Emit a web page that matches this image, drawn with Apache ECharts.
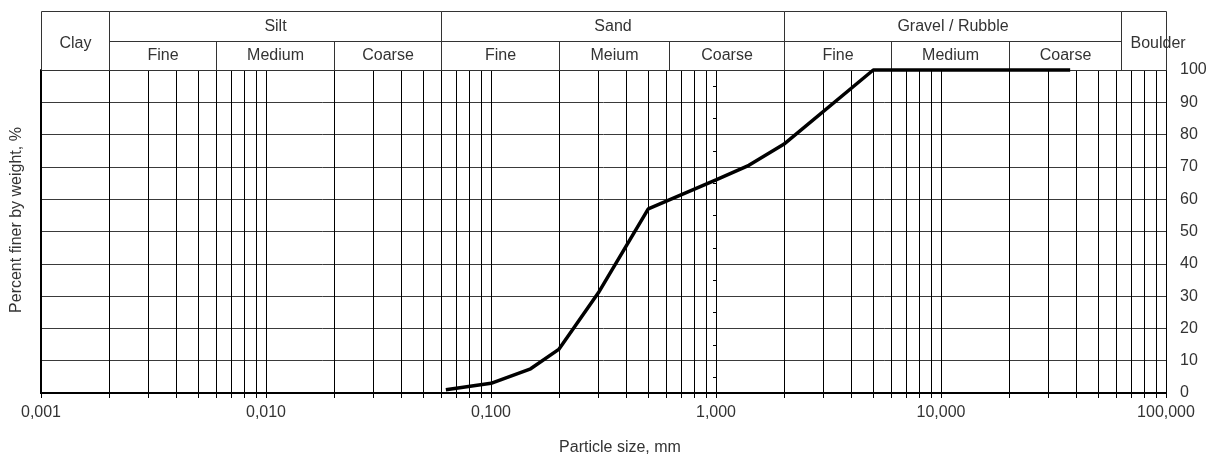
<!DOCTYPE html>
<html>
<head>
<meta charset="utf-8">
<script src="https://cdn.jsdelivr.net/npm/echarts@6/dist/echarts.min.js"></script>
<style>
  html, body { margin: 0; padding: 0; background: #fff; }
  #chart { width: 1215px; height: 458px; }
</style>
</head>
<body>
<div id="chart"></div>
<script>
// Grain-size distribution: cumulative percent passing vs particle size (mm)
const particleSizes = [0.063, 0.1, 0.15, 0.2, 0.3, 0.5, 1.0, 1.4, 2, 5, 10, 20, 37.5];
const percentFiner  = [1, 3, 7.5, 13.5, 31, 57, 66, 70.5, 77, 100, 100, 100, 100];

// Soil classification bands (mm): upper header row and its sub-bands
const mainClasses = ['Clay', 'Silt', 'Sand', 'Gravel / Rubble', 'Boulder'];
const mainBounds  = [[0.001, 0.002], [0.002, 0.06], [0.06, 2], [2, 63], [63, 100]];
const subClasses  = ['Fine', 'Medium', 'Coarse', 'Fine', 'Meium', 'Coarse', 'Fine', 'Medium', 'Coarse'];
const subBounds   = [[0.002, 0.006], [0.006, 0.02], [0.02, 0.06], [0.06, 0.2], [0.2, 0.62], [0.62, 2], [2, 6], [6, 20], [20, 63]];

// Axis ticks
const decadeTicks = [0.001, 0.01, 0.1, 1, 10, 100];
const minorSteps  = [2, 3, 4, 5, 6, 7, 8, 9];
const halfTicks   = [5, 15, 25, 35, 45, 55, 65, 75, 85, 95];

const FONT = 'Liberation Sans, Arial, sans-serif';
const TEXT = '#333';

// Every vertical rule of the log paper: decades plus 2..9 within each decade
const verticalRules = [];
decadeTicks.forEach((d, i) => {
  verticalRules.push(d);
  if (i < decadeTicks.length - 1) minorSteps.forEach(m => verticalRules.push(+(d * m).toPrecision(6)));
});

// Header cells: Clay and Boulder span both rows, the rest split into two rows
const headerCells = [];
mainClasses.forEach((name, i) => {
  const full = name === 'Clay' || name === 'Boulder';
  headerCells.push({ name, x0: mainBounds[i][0], x1: mainBounds[i][1], r0: full ? 0 : 1, r1: 2, edge: name === 'Boulder' });
});
subClasses.forEach((name, i) => {
  headerCells.push({ name, x0: subBounds[i][0], x1: subBounds[i][1], r0: 0, r1: 1, edge: false });
});

const crisp = v => Math.round(v) + 0.5;
const fmtSize = v => Number(v).toFixed(3).replace('.', ',');

const chart = echarts.init(document.getElementById('chart'), null, { renderer: 'canvas' });

chart.setOption({
  animation: false,
  backgroundColor: '#fff',
  grid: [
    { left: 41, right: 49, top: 70, height: 323 },
    { left: 41, right: 49, top: 11, height: 59 }
  ],
  xAxis: [
    {
      type: 'log', logBase: 10, min: 0.001, max: 100, gridIndex: 0, position: 'bottom',
      axisLine: { show: true, lineStyle: { color: '#000', width: 2 } },
      axisTick: { show: false },
      splitLine: { show: false },
      axisLabel: { color: TEXT, fontFamily: FONT, fontSize: 16, margin: 12, formatter: fmtSize }
    },
    {
      type: 'log', logBase: 10, min: 0.001, max: 100, gridIndex: 0, position: 'top',
      axisLine: { show: true, lineStyle: { color: '#000', width: 2 } },
      axisTick: { show: false }, axisLabel: { show: false }, splitLine: { show: false }
    },
    {
      type: 'log', logBase: 10, min: 0.001, max: 100, gridIndex: 1, show: false
    }
  ],
  yAxis: [
    {
      type: 'value', min: 0, max: 100, interval: 10, gridIndex: 0, position: 'right',
      axisLine: { show: true, lineStyle: { color: '#000', width: 1 } },
      axisTick: { show: false },
      splitLine: { show: true, lineStyle: { color: '#3a3a3a', width: 1 } },
      axisLabel: { color: TEXT, fontFamily: FONT, fontSize: 16, margin: 14, align: 'left' }
    },
    {
      type: 'value', min: 0, max: 100, interval: 10, gridIndex: 0, position: 'left',
      axisLine: { show: true, lineStyle: { color: '#000', width: 2 } },
      axisTick: { show: false }, axisLabel: { show: false }, splitLine: { show: false }
    },
    {
      type: 'value', min: 0, max: 2, gridIndex: 1, show: false
    }
  ],
  graphic: [
    {
      type: 'text', x: 620, y: 448,
      style: { text: 'Particle size, mm', fill: TEXT, font: '16px ' + FONT, align: 'center', verticalAlign: 'middle' }
    },
    {
      type: 'text', x: 17, y: 220, rotation: Math.PI / 2,
      style: { text: 'Percent finer by weight, %', fill: TEXT, font: '16px ' + FONT, align: 'center', verticalAlign: 'middle' }
    }
  ],
  series: [
    {
      // vertical log-paper rules, each with a short tick below the axis
      type: 'custom', xAxisIndex: 0, yAxisIndex: 0, z: 1, silent: true,
      data: verticalRules.map(v => [v, 0]),
      renderItem: (params, api) => {
        const v = api.value(0);
        const top = api.coord([v, 100]);
        const bot = api.coord([v, 0]);
        const x = crisp(top[0]);
        return {
          type: 'line',
          shape: { x1: x, y1: top[1], x2: x, y2: bot[1] + 5 },
          style: { stroke: '#000', lineWidth: 1 }
        };
      }
    },
    {
      // 5 % marks along the 1 mm rule
      type: 'custom', xAxisIndex: 0, yAxisIndex: 0, z: 1, silent: true,
      data: halfTicks.map(p => [1, p]),
      renderItem: (params, api) => {
        const pt = api.coord([api.value(0), api.value(1)]);
        const y = crisp(pt[1]);
        return {
          type: 'line',
          shape: { x1: pt[0] - 3, y1: y, x2: pt[0], y2: y },
          style: { stroke: '#000', lineWidth: 1 }
        };
      }
    },
    {
      // classification header table
      type: 'custom', xAxisIndex: 2, yAxisIndex: 2, silent: true,
      data: headerCells.map(c => [c.x0, c.x1, c.r0, c.r1]),
      renderItem: (params, api) => {
        const cell = headerCells[params.dataIndex];
        const tl = api.coord([cell.x0, cell.r1]);
        const br = api.coord([cell.x1, cell.r0]);
        const x0 = crisp(tl[0]), y0 = crisp(tl[1]);
        const x1 = crisp(br[0]), y1 = crisp(br[1]);
        const spansBoth = cell.r1 - cell.r0 > 1;
        return {
          type: 'group',
          children: [
            {
              type: 'rect',
              shape: { x: x0, y: y0, width: x1 - x0, height: y1 - y0 },
              style: { fill: null, stroke: '#333', lineWidth: 1 }
            },
            {
              type: 'text',
              style: {
                text: cell.name,
                x: cell.edge ? x0 + 9 : (x0 + x1) / 2,
                y: (y0 + y1) / 2 + (spansBoth ? 3 : 0),
                fill: TEXT,
                font: '16px ' + FONT,
                align: cell.edge ? 'left' : 'center',
                verticalAlign: 'middle'
              }
            }
          ]
        };
      }
    },
    {
      name: 'Percent finer',
      type: 'line', xAxisIndex: 0, yAxisIndex: 0, z: 5,
      data: particleSizes.map((s, i) => [s, percentFiner[i]]),
      showSymbol: false, symbol: 'none', clip: false,
      lineStyle: { color: '#000', width: 3.5 }
    }
  ]
});
</script>
</body>
</html>
